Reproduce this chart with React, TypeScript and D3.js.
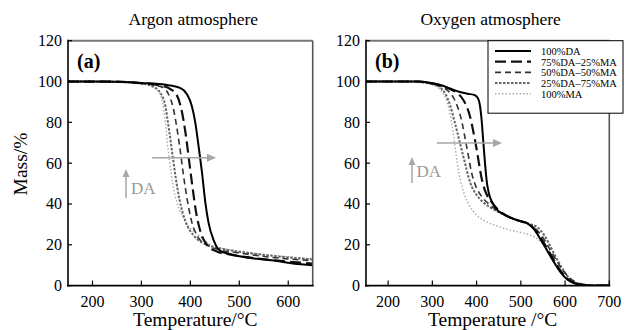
import React from "react";
import * as d3 from "d3";

type Pt = [number, number];

// ---------- data ----------
const yTicks = [0, 20, 40, 60, 80, 100, 120];
const xTicksArgon = [200, 300, 400, 500, 600];
const xTicksOxygen = [200, 300, 400, 500, 600, 700];
const seriesNames = ["100%DA", "75%DA\u201325%MA", "50%DA\u201350%MA", "25%DA\u201375%MA", "100%MA"];

const argonDA: Pt[] = [[150,100],[250,99.9],[300,99.3],[350,98.4],[380,96.8],[393,93.8],[403,88],[410,80],[417,68],[424,55],[431,40],[437,31],[448,22],[461,17],[480,15.5],[509,14],[550,12.8],[578,12],[610,10.8],[650,10]];
const argon75: Pt[] = [[150,100],[250,99.9],[300,99.2],[340,98],[360,96.2],[372,93.5],[382,86],[390,75],[397,62],[404,49],[411,37],[420,27],[434,20],[455,16.6],[480,15.3],[520,13.8],[580,12.2],[650,10.8]];
const argon50: Pt[] = [[150,100],[250,99.9],[300,99.1],[340,97.5],[355,94],[365,87],[374,75],[380,65],[386,54],[393,43],[402,32],[415,24],[430,20.5],[460,17.5],[500,16],[560,14],[650,12.2]];
const argon25: Pt[] = [[150,100],[250,99.8],[300,99],[320,98],[340,94],[349,88],[356,77],[363,65],[370,53],[378,42],[390,31.5],[407,24.5],[440,19.5],[470,17.8],[500,16.6],[560,14.8],[650,12.8]];
const argonMA: Pt[] = [[150,100],[250,99.7],[300,99],[320,97.5],[335,95],[343,90],[349,80],[353,70],[358,60],[364,50],[373,40.5],[390,31.5],[420,24],[448,19.2],[470,18],[500,16.8],[560,15],[650,13.2]];

const oxDA: Pt[] = [[150,100],[270,100],[300,99.2],[320,98.2],[340,96.6],[360,95],[380,94],[395,93.4],[402,92.2],[407,89],[411,82],[415,71],[419,60],[423,51],[428,45],[436,40.5],[447,37],[462,34.8],[480,33],[500,31.5],[515,30.5],[530,27.5],[545,22.5],[560,17],[575,11.5],[590,6.5],[605,3],[620,1.2],[640,0.3],[655,0],[700,0]];
const ox75: Pt[] = [[150,100],[270,100],[300,99.1],[320,98],[340,96.3],[355,94.5],[365,92.5],[375,89],[385,83],[393,75],[400,67],[406,59],[411,53],[416,48.5],[422,45],[432,41.5],[447,37.5],[462,35],[480,33],[500,31.5],[515,30.5],[530,28],[545,23.5],[560,18],[575,12.5],[590,7.2],[605,3.4],[620,1.4],[640,0.4],[660,0],[700,0]];
const ox50: Pt[] = [[150,100],[260,100],[300,99],[320,97.5],[335,95.5],[348,92],[358,87],[367,80],[375,71],[382,63],[388,56],[395,50.5],[403,46.5],[412,43.5],[425,40.5],[442,37.5],[462,35],[480,33],[500,31.5],[518,30],[535,27.5],[550,23.5],[565,18],[580,12.5],[595,7.5],[610,3.8],[625,1.6],[645,0.4],[665,0],[700,0]];
const ox25: Pt[] = [[150,100],[250,100],[300,98.8],[318,97],[330,93.8],[340,88.5],[350,80.5],[360,72],[368,65],[375,59],[382,53],[390,48],[400,44.5],[414,41],[430,38.5],[450,36],[470,34],[500,31.5],[520,30.2],[538,28.5],[552,25],[565,20],[578,14.5],[592,9],[606,4.5],[620,2],[640,0.6],[660,0],[700,0]];
const oxMA: Pt[] = [[150,100],[250,100],[280,99.3],[300,98.3],[315,96.5],[325,94],[334,89.5],[341,83],[347,75],[352,67],[357,59],[363,52],[372,45],[383,39.5],[398,35],[418,31.8],[445,29.3],[475,27.3],[500,26],[520,24.8],[538,22.8],[552,19.5],[566,14.5],[580,9.5],[595,5.5],[610,2.8],[625,1.2],[645,0.3],[665,0],[700,0]];

const argonSeries = [argonDA, argon75, argon50, argon25, argonMA];
const oxygenSeries = [oxDA, ox75, ox50, ox25, oxMA];

// ---------- styles ----------
const styles = [
  { stroke: "#000", width: 2, dash: "none" },
  { stroke: "#111", width: 2.2, dash: "11,5" },
  { stroke: "#333", width: 1.6, dash: "6,4" },
  { stroke: "#666", width: 2, dash: "2.5,1.5" },
  { stroke: "#aaa", width: 1.4, dash: "1.5,2" },
];

const FONT = "'Liberation Serif', 'Times New Roman', serif";
const TOP = 40.7;
const BOTTOM = 285.6;

function Panel(props: {
  id: string; x0: number; x1: number; domain: [number, number]; ticks: number[];
  series: Pt[][]; title: string; label: string; xlabel: string;
  hArrow: [number, number, number]; vArrow: [number, number, number]; daPos: [number, number];
}) {
  const { id, x0, x1, domain, ticks, series, title, label, xlabel, hArrow, vArrow, daPos } = props;
  const x = d3.scaleLinear().domain(domain).range([x0, x1]);
  const y = d3.scaleLinear().domain([0, 120]).range([BOTTOM, TOP]);
  const line = d3.line<Pt>().x(d => x(d[0])).y(d => y(d[1])).curve(d3.curveMonotoneX);
  const cx = (x0 + x1) / 2;
  const grey = "#a6a6a6";
  const order = series.map((_, i) => i).reverse();
  return (
    <g>
      <defs>
        <clipPath id={id}>
          <rect x={x0} y={TOP} width={x1 - x0} height={BOTTOM - TOP} />
        </clipPath>
      </defs>
      <text x={cx + 3} y={25} fontSize={17.5} textAnchor="middle" fontFamily={FONT}>{title}</text>
      <g clipPath={`url(#${id})`}>
        {order.map(i => (
          <path key={i} d={line(series[i]) || ""} fill="none" stroke={styles[i].stroke}
            strokeWidth={styles[i].width} strokeDasharray={styles[i].dash} />
        ))}
      </g>
      {/* frame */}
      <line x1={x0} x2={x1} y1={TOP} y2={TOP} stroke="#777" strokeWidth={2} />
      <line x1={x1} x2={x1} y1={TOP} y2={BOTTOM} stroke="#555" strokeWidth={1.6} />
      <line x1={x0} x2={x0} y1={TOP - 1} y2={BOTTOM + 1} stroke="#000" strokeWidth={1.6} />
      <line x1={x0 - 1} x2={x1 + 1} y1={BOTTOM} y2={BOTTOM} stroke="#000" strokeWidth={1.6} />
      {yTicks.map(t => (
        <g key={"y" + t}>
          <line x1={x0} x2={x0 + 4} y1={y(t)} y2={y(t)} stroke="#000" strokeWidth={1.2} />
          <text x={x0 - 6} y={y(t) + 5.5} fontSize={16} textAnchor="end" fontFamily={FONT}>{t}</text>
        </g>
      ))}
      {ticks.map(t => (
        <g key={"x" + t}>
          <line x1={x(t)} x2={x(t)} y1={BOTTOM} y2={BOTTOM - 5} stroke="#000" strokeWidth={1.2} />
          <text x={x(t)} y={307} fontSize={16} textAnchor="middle" fontFamily={FONT}>{t}</text>
        </g>
      ))}
      <text x={cx + 5} y={326} fontSize={19.5} textAnchor="middle" fontFamily={FONT}>{xlabel}</text>
      <text x={x0 + 9} y={68} fontSize={20} fontWeight="bold" fontFamily={FONT}>{label}</text>
      {/* arrows */}
      <line x1={hArrow[0]} x2={hArrow[1] - 7} y1={hArrow[2]} y2={hArrow[2]} stroke={grey} strokeWidth={1.5} />
      <path d={`M${hArrow[1]},${hArrow[2]} L${hArrow[1] - 9},${hArrow[2] - 4} L${hArrow[1] - 9},${hArrow[2] + 4} Z`} fill={grey} />
      <line x1={vArrow[0]} x2={vArrow[0]} y1={vArrow[1]} y2={vArrow[2] + 6} stroke={grey} strokeWidth={1.5} />
      <path d={`M${vArrow[0]},${vArrow[2]} L${vArrow[0] - 3.5},${vArrow[2] + 8} L${vArrow[0] + 3.5},${vArrow[2] + 8} Z`} fill={grey} />
      <text x={daPos[0]} y={daPos[1]} fontSize={17} fill="#999" fontFamily={FONT}>DA</text>
    </g>
  );
}

export default function App() {
  const lx0 = 495, lx1 = 531, tx = 541;
  const rowY = [51, 61.7, 72.4, 83.1, 93.8];
  return (
    <svg width={625} height={330} style={{ position: "absolute", left: 0, top: 0, background: "#fff" }}>
      <rect x={0} y={0} width={625} height={330} fill="#fff" />
      <text x={20} y={164} fontSize={19.5} textAnchor="middle" fontFamily={FONT}
        transform="rotate(-90 20 164)" dy="0.35em">Mass/%</text>
      <Panel id="clipA" x0={68} x1={312.7} domain={[150, 650]} ticks={xTicksArgon} series={argonSeries}
        title="Argon atmosphere" label="(a)" xlabel="Temperature/°C"
        hArrow={[152, 216, 157.7]} vArrow={[126, 198, 169]} daPos={[131, 194]} />
      <Panel id="clipB" x0={366} x1={609.3} domain={[150, 700]} ticks={xTicksOxygen} series={oxygenSeries}
        title="Oxygen atmosphere" label="(b)" xlabel="Temperature /°C"
        hArrow={[437, 502, 143]} vArrow={[412, 183, 157]} daPos={[416.5, 177]} />
      {/* legend */}
      <rect x={488} y={40.7} width={135} height={72.5} fill="#fff" stroke="#000" strokeWidth={1} />
      {seriesNames.map((n, i) => (
        <g key={n}>
          <line x1={lx0} x2={lx1} y1={rowY[i]} y2={rowY[i]} stroke={styles[i].stroke}
            strokeWidth={styles[i].width} strokeDasharray={styles[i].dash} />
          <text x={tx} y={rowY[i] + 3.8} fontSize={10.5} fontFamily={FONT}>{n}</text>
        </g>
      ))}
    </svg>
  );
}
